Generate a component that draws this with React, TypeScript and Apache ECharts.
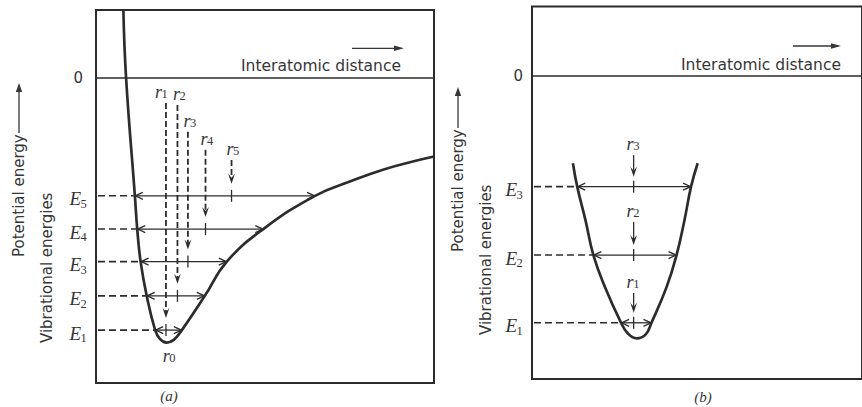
import React, { useEffect, useRef } from "react";
import * as echarts from "echarts";

// ---------- Panel (a): anharmonic (Morse-like) potential ----------
const curveAX = [0.81, 0.89, 1.15, 1.22, 1.32, 1.5, 1.75, 1.89, 2.09, 2.31, 2.54, 3.22, 3.87, 4.95, 6.48, 7.51, 8.49, 9.49, 10.0];
const curveAY = [2.0, 0.0, -3.48, -4.46, -5.42, -6.43, -7.44, -7.7, -7.81, -7.72, -7.44, -6.43, -5.42, -4.46, -3.48, -3.06, -2.71, -2.44, -2.32];
// vibrational levels E1..E5 and where they meet the curve
const levelsA = [-7.44, -6.43, -5.42, -4.46, -3.48];
const leftA = [1.75, 1.5, 1.32, 1.22, 1.15];
const rightA = [2.54, 3.22, 3.87, 4.95, 6.48];
// mean separations r1..r5 (x) and where their dashed lines start (y)
const rXA = [2.07, 2.41, 2.72, 3.24, 4.01];
const rTopA = [-0.74, -0.8, -1.59, -2.12, -2.42];
const r0A = [2.09, -7.81];

// ---------- Panel (b): harmonic potential ----------
const curveBX = [1.24, 1.37, 1.62, 1.86, 2.21, 2.7, 2.9, 3.17, 3.44, 3.62, 4.08, 4.38, 4.62, 4.82, 5.02];
const curveBY = [-2.58, -3.27, -4.26, -5.29, -6.23, -7.29, -7.6, -7.75, -7.64, -7.29, -6.23, -5.29, -4.26, -3.27, -2.58];
const levelsB = [-7.29, -5.29, -3.27];
const leftB = [2.7, 1.86, 1.37];
const rightB = [3.62, 4.38, 4.82];
const rXB = [3.08, 3.08, 3.08];
const rTopB = [-6.41, -4.31, -2.34];

const INK = "#2c2c2c";
const TEXT = "#363636";
const SANS = "DejaVu Sans";
const SERIF = "Liberation Serif";

function txt(text: string, x: number, y: number, size: number, align: string, italic: boolean, family = SERIF) {
  return {
    type: "text",
    x,
    y,
    style: {
      text,
      fontFamily: family,
      fontStyle: italic ? "italic" : "normal",
      fontSize: size,
      fill: TEXT,
      align,
      textAlign: align,
      verticalAlign: "middle",
      textVerticalAlign: "middle",
    },
  };
}

function levelRender(params: any, api: any) {
  const xl = api.value(0);
  const y = api.value(1);
  const xr = api.value(2);
  const n = params.dataIndex + 1;
  const pf = api.coord([0, y]);
  const pl = api.coord([xl, y]);
  const pr = api.coord([xr, y]);
  const py = pl[1];
  return {
    type: "group",
    children: [
      { type: "line", shape: { x1: pf[0] + 2, y1: py, x2: pl[0] - 1, y2: py }, style: { stroke: INK, lineWidth: 1.6, lineDash: [7, 4] } },
      { type: "line", shape: { x1: pl[0], y1: py, x2: pr[0], y2: py }, style: { stroke: INK, lineWidth: 1.3 } },
      { type: "polyline", shape: { points: [[pl[0] + 8, py - 3.5], [pl[0] + 0.5, py], [pl[0] + 8, py + 3.5]] }, style: { stroke: INK, lineWidth: 1.3, fill: "none" } },
      { type: "polyline", shape: { points: [[pr[0] - 8, py - 3.5], [pr[0] - 0.5, py], [pr[0] - 8, py + 3.5]] }, style: { stroke: INK, lineWidth: 1.3, fill: "none" } },
      txt("E", pf[0] - 15, py + 3, 19, "right", true),
      txt(String(n), pf[0] - 15.5, py + 8, 12.5, "left", false),
    ],
  };
}

function makeArrowRender(dashed: boolean, tipGap: number, labelDx: number[]) {
  return (params: any, api: any) => {
    const x = api.value(0);
    const top = api.value(1);
    const lvl = api.value(2);
    const i = params.dataIndex;
    const pt = api.coord([x, top]);
    const pl = api.coord([x, lvl]);
    const px = pt[0];
    const tip = pl[1] - tipGap;
    const dx = labelDx[i] ?? 0;
    return {
      type: "group",
      children: [
        {
          type: "line",
          shape: { x1: px, y1: pt[1], x2: px, y2: tip - 6 },
          style: dashed ? { stroke: INK, lineWidth: 1.8, lineDash: [6, 3] } : { stroke: INK, lineWidth: 1.3 },
        },
        { type: "polygon", shape: { points: [[px - 3.4, tip - 10], [px, tip - 6], [px + 3.4, tip - 10], [px, tip]] }, style: { fill: INK } },
        { type: "line", shape: { x1: px, y1: pl[1] - 6, x2: px, y2: pl[1] + 6 }, style: { stroke: INK, lineWidth: 1.3 } },
        txt("r", px + dx, pt[1] - 11, 18, "right", true),
        txt(String(i + 1), px + dx - 0.5, pt[1] - 9, 12.5, "left", false),
      ],
    };
  };
}

function r0Render(params: any, api: any) {
  const p = api.coord([api.value(0), api.value(1)]);
  return {
    type: "group",
    children: [txt("r", p[0] + 3, p[1] + 13, 18, "right", true), txt("0", p[0] + 2.5, p[1] + 15, 12.5, "left", false)],
  };
}

function rotatedLabel(x: number, y: number, text: string, arrowFrom?: number, arrowTo?: number) {
  const children: any[] = [
    {
      type: "text",
      x: 0,
      y: 0,
      style: { text, fontFamily: SANS, fontSize: 15, fill: TEXT, align: "left", textAlign: "left", verticalAlign: "middle", textVerticalAlign: "middle" },
    },
  ];
  if (arrowFrom !== undefined && arrowTo !== undefined) {
    children.push({ type: "line", shape: { x1: arrowFrom, y1: 0, x2: arrowTo - 7, y2: 0 }, style: { stroke: TEXT, lineWidth: 1.3 } });
    children.push({ type: "polygon", shape: { points: [[arrowTo, 0], [arrowTo - 9, -3.2], [arrowTo - 9, 3.2]] }, style: { fill: TEXT } });
  }
  return { type: "group", x, y, rotation: Math.PI / 2, children };
}

function distanceLabel(x: number, y: number, ax1: number, ax2: number, ay: number) {
  return [
    {
      type: "text",
      x,
      y,
      style: { text: "Interatomic distance", fontFamily: SANS, fontSize: 15.5, fill: TEXT, align: "left", textAlign: "left", verticalAlign: "middle", textVerticalAlign: "middle" },
    },
    { type: "line", shape: { x1: ax1, y1: ay, x2: ax2 - 6, y2: ay }, style: { stroke: TEXT, lineWidth: 1.3 } },
    { type: "polygon", shape: { points: [[ax2, ay], [ax2 - 10, ay - 2.8], [ax2 - 10, ay + 2.8]] }, style: { fill: TEXT } },
  ];
}

const zeroLine = (dist: number) => ({
  silent: true,
  symbol: ["none", "none"],
  lineStyle: { type: "solid", color: INK, width: 1.6 },
  label: { show: true, position: "start", formatter: "0", distance: dist, color: TEXT, fontFamily: SANS, fontSize: 15 },
  emphasis: { disabled: true },
  data: [{ yAxis: 0 }],
});

export default function App() {
  const ref = useRef<HTMLDivElement>(null);
  useEffect(() => {
    if (!ref.current) return;
    const chart = echarts.init(ref.current, null, { renderer: "svg" });
    const option: any = {
      animation: false,
      backgroundColor: "#ffffff",
      grid: [
        { left: 96, top: 10, width: 338, height: 373, show: true, borderColor: INK, borderWidth: 2, backgroundColor: "transparent" },
        { left: 532, top: 6.5, width: 338, height: 372.5, show: true, borderColor: INK, borderWidth: 2, backgroundColor: "transparent" },
      ],
      xAxis: [
        { gridIndex: 0, type: "value", min: 0, max: 10, show: false },
        { gridIndex: 1, type: "value", min: 0, max: 10, show: false },
      ],
      yAxis: [
        { gridIndex: 0, type: "value", min: -9, max: 2, show: false },
        { gridIndex: 1, type: "value", min: -8.95, max: 2.05, show: false },
      ],
      series: [
        {
          type: "line",
          xAxisIndex: 0,
          yAxisIndex: 0,
          data: curveAX.map((x, i) => [x, curveAY[i]]),
          smooth: 0.45,
          symbol: "none",
          lineStyle: { color: INK, width: 2.7 },
          z: 4,
          silent: true,
          markLine: zeroLine(13),
        },
        { type: "custom", xAxisIndex: 0, yAxisIndex: 0, renderItem: levelRender, data: levelsA.map((y, i) => [leftA[i], y, rightA[i]]), z: 2, silent: true },
        {
          type: "custom",
          xAxisIndex: 0,
          yAxisIndex: 0,
          renderItem: makeArrowRender(true, 12, [-4, 2.5, 2.5, 2, 2]),
          data: rXA.map((x, i) => [x, rTopA[i], levelsA[i]]),
          z: 3,
          silent: true,
        },
        { type: "custom", xAxisIndex: 0, yAxisIndex: 0, renderItem: r0Render, data: [r0A], z: 3, silent: true },
        {
          type: "line",
          xAxisIndex: 1,
          yAxisIndex: 1,
          data: curveBX.map((x, i) => [x, curveBY[i]]),
          smooth: 0.45,
          symbol: "none",
          lineStyle: { color: INK, width: 2.7 },
          z: 4,
          silent: true,
          markLine: zeroLine(9),
        },
        { type: "custom", xAxisIndex: 1, yAxisIndex: 1, renderItem: levelRender, data: levelsB.map((y, i) => [leftB[i], y, rightB[i]]), z: 2, silent: true },
        {
          type: "custom",
          xAxisIndex: 1,
          yAxisIndex: 1,
          renderItem: makeArrowRender(false, 10, [0, 0, 0]),
          data: rXB.map((x, i) => [x, rTopB[i], levelsB[i]]),
          z: 3,
          silent: true,
        },
      ],
      graphic: [
        rotatedLabel(19, 257, "Potential energy", 124, 174),
        rotatedLabel(46.5, 343, "Vibrational energies"),
        rotatedLabel(458, 252, "Potential energy", 124, 165),
        rotatedLabel(486, 335, "Vibrational energies"),
        ...distanceLabel(241, 66, 352, 404, 48.3),
        ...distanceLabel(681, 65, 793, 841, 46),
        txt("(a)", 169, 396, 15, "center", true),
        txt("(b)", 703, 397, 15, "center", true),
      ],
    };
    chart.setOption(option);
    return () => chart.dispose();
  }, []);
  return <div ref={ref} style={{ position: "absolute", left: 0, top: 0, width: 862, height: 407, background: "#fff" }} />;
}
